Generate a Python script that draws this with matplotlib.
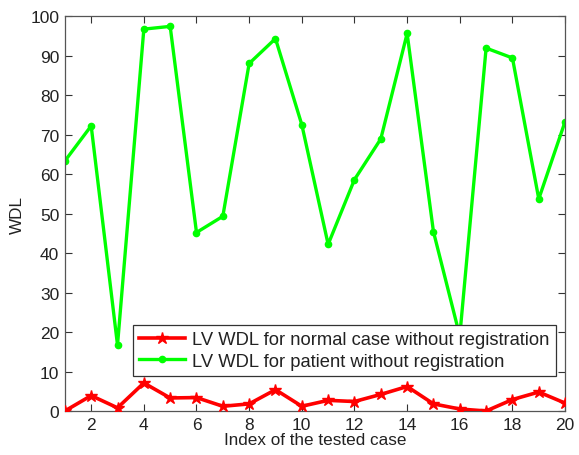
import matplotlib
matplotlib.use("Agg")
import matplotlib.pyplot as plt

plt.rcParams['font.family'] = ['Liberation Sans', 'DejaVu Sans']

cases = list(range(1, 21))
normal_wdl = [0.0, 3.9, 0.8, 7.1, 3.3, 3.4, 1.2, 1.8, 5.4, 1.2,
              2.7, 2.4, 4.2, 6.2, 1.8, 0.5, 0.0, 2.9, 4.8, 2.0]
patient_wdl = [63.3, 72.2, 16.7, 96.7, 97.4, 45.2, 49.3, 88.0, 94.3, 72.5,
               42.2, 58.6, 68.9, 95.6, 45.4, 19.0, 91.9, 89.4, 53.7, 73.3]
xticks = list(range(2, 21, 2))
yticks = list(range(0, 101, 10))

fig = plt.figure(figsize=(5.79, 4.56), dpi=100)
ax = fig.add_axes([0.112, 0.0965, 0.864, 0.866])

ax.plot(cases, normal_wdl, color='#ff0000', lw=2.6, marker='*', ms=9,
        label='LV WDL for normal case without registration', zorder=3)
ax.plot(cases, patient_wdl, color='#00ff00', lw=2.4, marker='.', ms=9,
        label='LV WDL for patient without registration', zorder=2)

ax.set_xlim(1, 20)
ax.set_ylim(0, 100)
ax.set_xticks(xticks)
ax.set_yticks(yticks)
ax.tick_params(direction='in', top=True, right=True, length=5, width=0.8,
               labelsize=12.5, colors='#333333', labelcolor='#222222', pad=4)
for s in ax.spines.values():
    s.set_color('#555555')
    s.set_linewidth(0.9)

ax.set_xlabel('Index of the tested case', fontsize=12.3, color='#222222', labelpad=0)
ax.set_ylabel('WDL', fontsize=12.3, color='#222222', labelpad=4)

leg = ax.legend(loc='lower right', bbox_to_anchor=(0.982, 0.0886), borderaxespad=0,
                fancybox=False, framealpha=1, edgecolor='#333333', fontsize=13.2,
                handlelength=2.5, handletextpad=0.4, borderpad=0.35, labelspacing=0.25)
leg.get_frame().set_linewidth(0.9)
for t in leg.get_texts():
    t.set_color('#222222')

fig.savefig('out.png', dpi=100)
